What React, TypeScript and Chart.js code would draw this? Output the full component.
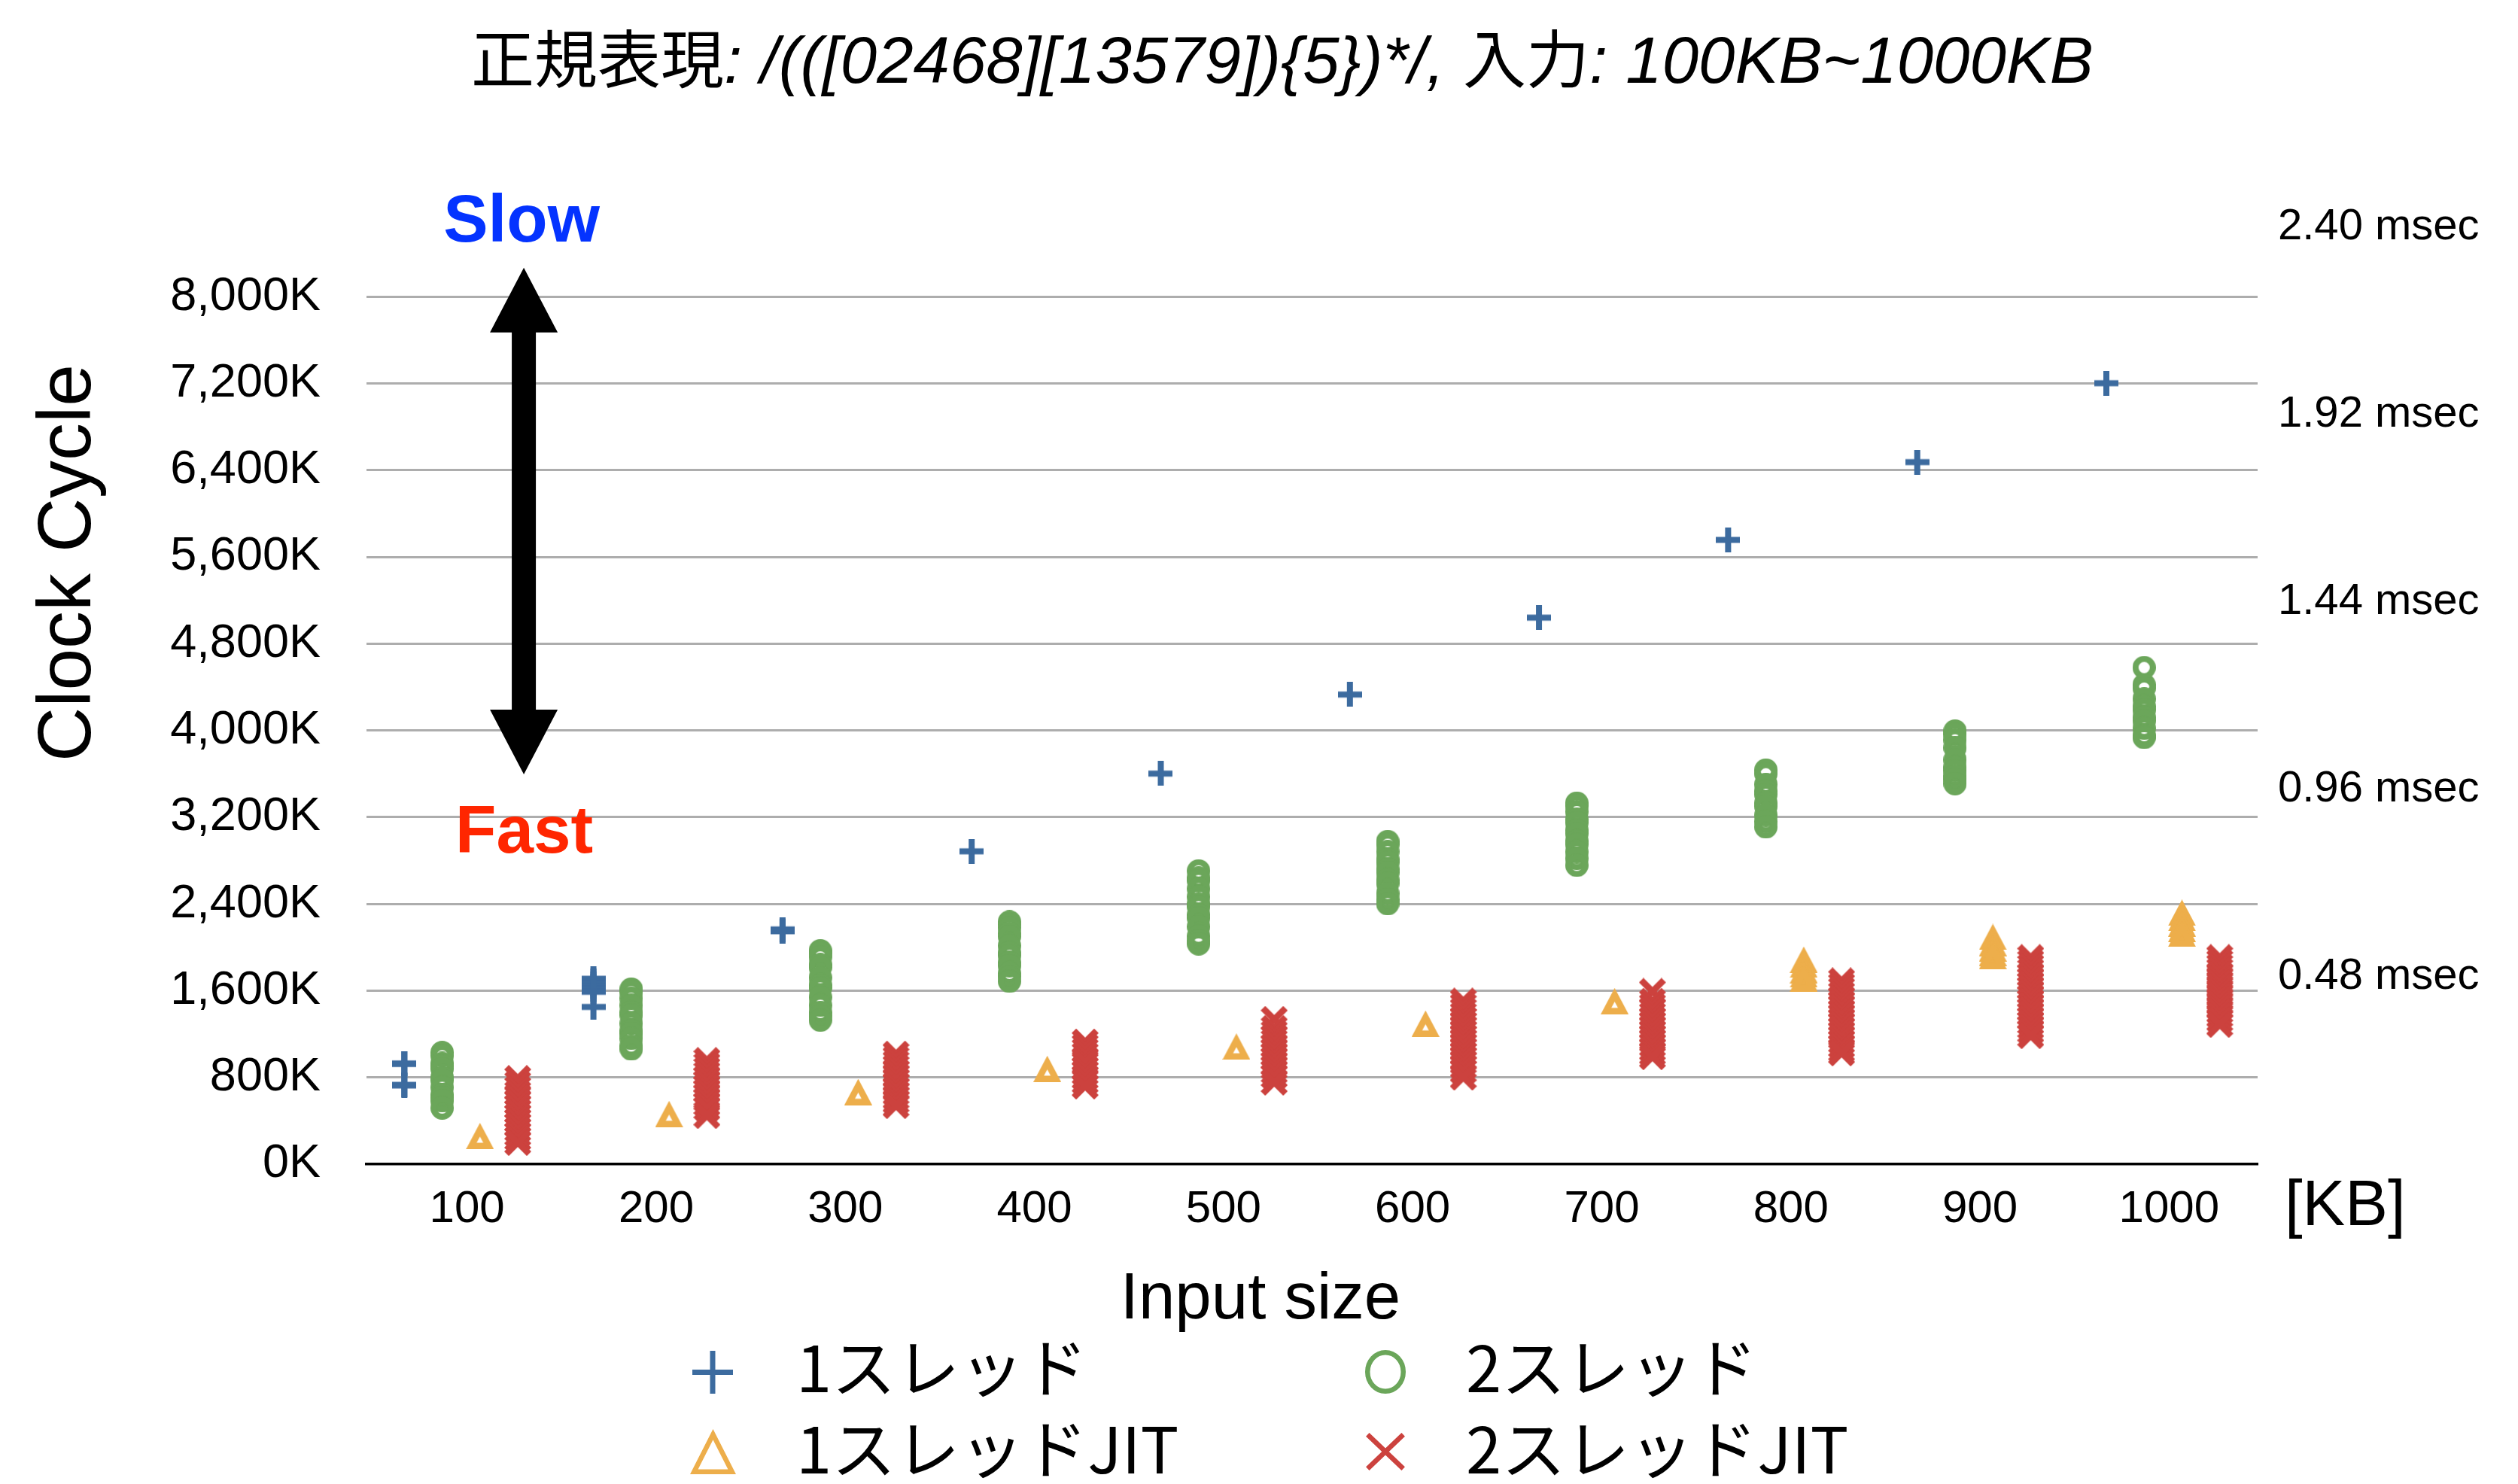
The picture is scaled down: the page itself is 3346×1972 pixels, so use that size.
import React, { useEffect, useRef } from 'react';
import { Chart, registerables } from 'chart.js';

Chart.register(...registerables);

// ---------- data ----------
const categories = ['100', '200', '300', '400', '500', '600', '700', '800', '900', '1000'];
const yTickValues = [0, 800, 1600, 2400, 3200, 4000, 4800, 5600, 6400, 7200, 8000];
const msecTicks = [0.48, 0.96, 1.44, 1.92, 2.4];
const kCyclesPerMsec = 3600;

const seriesNames = ['1スレッド', '2スレッド', '1スレッドJIT', '2スレッドJIT'];
const seriesColors = ['#3C6B9F', '#6BA65A', '#EDAE4B', '#CC423E'];
const seriesSlots = [0.2, 0.4, 0.6, 0.8];

// clock cycles (K) per input size, several runs each
const thread1: number[][] = [
  [727, 730, 925, 928],
  [1710, 1690, 1665, 1640, 1615, 1590, 1450],
  [2165, 2148],
  [2885],
  [3602],
  [4331],
  [5040],
  [5757],
  [6474],
  [7202],
];
const thread2: number[][] = [
  [1030, 1000, 930, 905, 880, 800, 775, 708, 640, 615, 583, 518],
  [1615, 1590, 1530, 1465, 1400, 1375, 1298, 1230, 1205, 1160, 1090, 1062],
  [1969, 1945, 1911, 1840, 1815, 1721, 1650, 1625, 1540, 1465, 1400, 1367, 1328],
  [2235, 2210, 2180, 2130, 2100, 2015, 1950, 1925, 1860, 1830, 1760, 1730, 1687],
  [2705, 2640, 2615, 2540, 2466, 2400, 2375, 2300, 2270, 2190, 2103, 2060, 2032],
  [2976, 2950, 2883, 2810, 2785, 2720, 2690, 2620, 2590, 2497, 2440, 2402],
  [3330, 3305, 3251, 3180, 3150, 3080, 3050, 2980, 2950, 2880, 2820, 2756],
  [3635, 3600, 3503, 3440, 3410, 3330, 3300, 3219, 3160, 3110],
  [3995, 3965, 3913, 3840, 3729, 3660, 3630, 3580, 3550, 3509],
  [4580, 4420, 4390, 4291, 4220, 4190, 4120, 4090, 4020, 3952, 3935],
];
const thread1Jit: number[][] = [
  [260],
  [463],
  [666],
  [879],
  [1085],
  [1296],
  [1504],
  [1886, 1840, 1790, 1750, 1713],
  [2096, 2040, 1990, 1950, 1918],
  [2319, 2270, 2220, 2170, 2126],
];
const thread2Jit: number[][] = [
  [790, 745, 700, 655, 612, 570, 528, 486, 444, 402, 360, 318, 276, 236, 200],
  [956, 915, 875, 835, 795, 755, 715, 675, 635, 595, 555, 515, 448],
  [1015, 975, 935, 895, 855, 815, 775, 735, 695, 655, 615, 578, 540],
  [1126, 1088, 1050, 1010, 968, 940, 880, 842, 800, 760, 720],
  [1335, 1252, 1212, 1172, 1132, 1092, 1052, 1012, 972, 932, 892, 852, 812, 756],
  [1504, 1462, 1420, 1380, 1340, 1300, 1260, 1220, 1180, 1140, 1100, 1060, 1020, 980, 940, 900, 858, 802],
  [1593, 1502, 1462, 1420, 1380, 1340, 1300, 1260, 1220, 1180, 1140, 1100, 1060, 1022, 991],
  [1690, 1650, 1612, 1570, 1530, 1490, 1452, 1410, 1370, 1330, 1292, 1250, 1210, 1170, 1130, 1090, 1052, 1026],
  [1905, 1865, 1825, 1785, 1745, 1705, 1665, 1625, 1585, 1545, 1505, 1465, 1425, 1385, 1345, 1305, 1265, 1225, 1185],
  [1905, 1866, 1827, 1788, 1750, 1712, 1674, 1636, 1598, 1560, 1522, 1484, 1446, 1408, 1370, 1330, 1288],
];
const seriesData = [thread1, thread2, thread1Jit, thread2Jit];

const titleSegments: { text: string; latin: boolean }[] = [
  { text: '正規表現', latin: false },
  { text: ': /(([02468][13579]){5})*/, ', latin: true },
  { text: '入力', latin: false },
  { text: ': 100KB~1000KB', latin: true },
];
const yAxisTitle = 'Clock Cycle';
const xAxisTitle = 'Input size';
const xUnit = '[KB]';
const slowLabel = 'Slow';
const fastLabel = 'Fast';

// annotation arrow in data units (x: category units, y: K cycles)
const arrowX = 0.832;
const arrowTip = 8267;
const arrowHeadBaseTop = 7670;
const arrowHeadBaseBottom = 4192;
const arrowTail = 3595;

const LATIN = '"Liberation Sans", Arial, Helvetica, sans-serif';
const CJK = '"Noto Sans CJK JP", "Noto Sans", sans-serif';

type Pt = [number, number];
const dist = (p: Pt, q: Pt) => Math.hypot(p[0] - q[0], p[1] - q[1]);

function insetTriangle(p: Pt[], t: number): Pt[] {
  const [A, B, C] = p;
  const a = dist(B, C), b = dist(C, A), c = dist(A, B);
  const per = a + b + c;
  const area = Math.abs((B[0] - A[0]) * (C[1] - A[1]) - (C[0] - A[0]) * (B[1] - A[1])) / 2;
  const r = area / (per / 2);
  const I: Pt = [(a * A[0] + b * B[0] + c * C[0]) / per, (a * A[1] + b * B[1] + c * C[1]) / per];
  const k = Math.max(r - t, 0) / r;
  return p.map((v) => [I[0] + (v[0] - I[0]) * k, I[1] + (v[1] - I[1]) * k] as Pt);
}

function makeMarker(kind: string, color: string, w: number, h: number, sw: number): HTMLCanvasElement {
  const c = document.createElement('canvas');
  c.width = w;
  c.height = h;
  const ctx = c.getContext('2d')!;
  ctx.fillStyle = color;
  ctx.strokeStyle = color;
  if (kind === 'plus') {
    ctx.fillRect(w / 2 - sw / 2, 0, sw, h);
    ctx.fillRect(0, h / 2 - sw / 2, w, sw);
  } else if (kind === 'circle') {
    ctx.lineWidth = sw;
    ctx.beginPath();
    ctx.ellipse(w / 2, h / 2, w / 2 - sw / 2, h / 2 - sw / 2, 0, 0, Math.PI * 2);
    ctx.stroke();
  } else if (kind === 'triangle') {
    const outer: Pt[] = [[w / 2, 0], [0, h], [w, h]];
    const inner = insetTriangle(outer, sw);
    ctx.beginPath();
    ctx.moveTo(outer[0][0], outer[0][1]);
    ctx.lineTo(outer[1][0], outer[1][1]);
    ctx.lineTo(outer[2][0], outer[2][1]);
    ctx.closePath();
    ctx.moveTo(inner[0][0], inner[0][1]);
    ctx.lineTo(inner[2][0], inner[2][1]);
    ctx.lineTo(inner[1][0], inner[1][1]);
    ctx.closePath();
    ctx.fill('evenodd');
  } else {
    const dx = w / 2 - 0.354 * sw;
    const dy = h / 2 - 0.354 * sw;
    ctx.lineWidth = sw;
    ctx.lineCap = 'butt';
    ctx.beginPath();
    ctx.moveTo(w / 2 - dx, h / 2 - dy);
    ctx.lineTo(w / 2 + dx, h / 2 + dy);
    ctx.moveTo(w / 2 + dx, h / 2 - dy);
    ctx.lineTo(w / 2 - dx, h / 2 + dy);
    ctx.stroke();
  }
  return c;
}

export default function App() {
  const ref = useRef<HTMLCanvasElement>(null);

  useEffect(() => {
    const canvas = ref.current;
    if (!canvas) return;
    Chart.defaults.font.family = LATIN;
    Chart.defaults.color = '#000';

    const kinds = ['plus', 'circle', 'triangle', 'cross'];
    const chartMarkerSpec = [
      [32, 33, 8],
      [31, 31, 8],
      [37, 35, 8.5],
      [36, 36, 8.5],
    ];
    const legendMarkerSpec = [
      [54, 57, 7],
      [54, 58, 6.5],
      [61, 60, 6.5],
      [52, 50, 6.5],
    ];
    const chartMarkers = kinds.map((k, i) =>
      makeMarker(k, seriesColors[i], chartMarkerSpec[i][0], chartMarkerSpec[i][1], chartMarkerSpec[i][2])
    );
    const legendMarkers = kinds.map((k, i) =>
      makeMarker(k, seriesColors[i], legendMarkerSpec[i][0], legendMarkerSpec[i][1], legendMarkerSpec[i][2])
    );

    const datasets = seriesData.map((groups, s) => ({
      label: seriesNames[s],
      data: groups.flatMap((vals, ci) => vals.map((v) => ({ x: ci + seriesSlots[s], y: v }))),
      pointStyle: chartMarkers[s] as any,
      pointRadius: 15,
      showLine: false,
    }));

    const yMax = msecTicks[msecTicks.length - 1] * kCyclesPerMsec;

    const extras = {
      id: 'extras',
      afterDraw(chart: any) {
        const ctx: CanvasRenderingContext2D = chart.ctx;
        const xs = chart.scales.x;
        const ys = chart.scales.y;
        ctx.save();
        ctx.fillStyle = '#000';

        // main title
        const fontFor = (latin: boolean) => (latin ? `italic 87px ${LATIN}` : `84px ${CJK}`);
        let total = 0;
        const widths = titleSegments.map((seg) => {
          ctx.font = fontFor(seg.latin);
          const w = ctx.measureText(seg.text).width;
          total += w;
          return w;
        });
        let tx = 1704 - total / 2;
        ctx.textBaseline = 'alphabetic';
        ctx.textAlign = 'left';
        titleSegments.forEach((seg, i) => {
          ctx.font = fontFor(seg.latin);
          ctx.fillText(seg.text, tx, 110);
          tx += widths[i];
        });

        // y axis title
        ctx.save();
        ctx.translate(120, 748);
        ctx.rotate(-Math.PI / 2);
        ctx.font = `100px ${LATIN}`;
        ctx.textAlign = 'center';
        ctx.textBaseline = 'alphabetic';
        ctx.fillText(yAxisTitle, 0, 0);
        ctx.restore();

        // x axis title and unit
        ctx.font = `87px ${LATIN}`;
        ctx.textAlign = 'center';
        ctx.fillText(xAxisTitle, 1675, 1752);
        ctx.font = `85px ${LATIN}`;
        ctx.textAlign = 'left';
        ctx.fillText(xUnit, 3036, 1628);

        // arrow
        const px = xs.getPixelForValue(arrowX);
        const tTop = ys.getPixelForValue(arrowTip);
        const bTop = ys.getPixelForValue(arrowHeadBaseTop);
        const bBot = ys.getPixelForValue(arrowHeadBaseBottom);
        const tBot = ys.getPixelForValue(arrowTail);
        const hw = 45;
        const sw = 16;
        ctx.beginPath();
        ctx.moveTo(px, tTop);
        ctx.lineTo(px + hw, bTop);
        ctx.lineTo(px + sw, bTop);
        ctx.lineTo(px + sw, bBot);
        ctx.lineTo(px + hw, bBot);
        ctx.lineTo(px, tBot);
        ctx.lineTo(px - hw, bBot);
        ctx.lineTo(px - sw, bBot);
        ctx.lineTo(px - sw, bTop);
        ctx.lineTo(px - hw, bTop);
        ctx.closePath();
        ctx.fill();

        // Slow / Fast
        ctx.font = `bold 89px ${LATIN}`;
        ctx.textAlign = 'center';
        ctx.fillStyle = '#0433FF';
        ctx.fillText(slowLabel, xs.getPixelForValue(0.82), ys.getPixelForValue(8510));
        ctx.fillStyle = '#FF2600';
        ctx.fillText(fastLabel, xs.getPixelForValue(0.834), ys.getPixelForValue(2874));

        // legend (2 columns x 2 rows)
        const markerX = [947, 1841];
        const markerY = [1823, 1929];
        const textX = [1058, 1948];
        const textY = [1818, 1926];
        ctx.fillStyle = '#000';
        ctx.font = `85px ${CJK}`;
        ctx.textAlign = 'left';
        ctx.textBaseline = 'middle';
        seriesNames.forEach((name, i) => {
          const col = i % 2;
          const row = Math.floor(i / 2);
          const m = legendMarkers[i];
          ctx.drawImage(m, Math.round(markerX[col] - m.width / 2), Math.round(markerY[row] - m.height / 2));
          ctx.fillText(name, textX[col], textY[row]);
        });

        ctx.restore();
      },
    };

    const chart = new Chart(canvas, {
      type: 'scatter',
      data: { datasets: datasets as any },
      options: {
        responsive: false,
        animation: false,
        devicePixelRatio: 1,
        events: [],
        layout: { padding: { top: 302, left: 0, right: 0, bottom: 0 } },
        plugins: {
          legend: { display: false },
          title: { display: false },
          tooltip: { enabled: false },
        },
        scales: {
          x: {
            type: 'linear',
            min: 0,
            max: categories.length,
            afterBuildTicks: (s: any) => {
              s.ticks = categories.map((_, i) => ({ value: i + 0.5 }));
            },
            afterFit: (s: any) => {
              s.height = 425;
            },
            grid: { display: false, drawTicks: false },
            border: { display: true, color: '#000', width: 3.5, z: 1 },
            ticks: {
              callback: (_v: any, i: number) => categories[i],
              font: { size: 60, family: LATIN },
              color: '#000',
              padding: 24,
              maxRotation: 0,
              autoSkip: false,
              labelOffset: 8,
            },
          },
          y: {
            type: 'linear',
            position: 'left',
            min: 0,
            max: yMax,
            afterBuildTicks: (s: any) => {
              s.ticks = yTickValues.map((v) => ({ value: v }));
            },
            afterFit: (s: any) => {
              s.width = 487;
            },
            grid: {
              color: (c: any) => (c.tick && c.tick.value === 0 ? 'rgba(0,0,0,0)' : '#ADADAD'),
              lineWidth: 3,
              drawTicks: false,
            },
            border: { display: false },
            ticks: {
              callback: (v: any) => `${Number(v).toLocaleString('en-US')}K`,
              font: { size: 63, family: LATIN },
              color: '#000',
              padding: 61,
              autoSkip: false,
            },
          },
          y2: {
            type: 'linear',
            position: 'right',
            min: 0,
            max: yMax,
            afterBuildTicks: (s: any) => {
              s.ticks = msecTicks.map((m) => ({ value: m * kCyclesPerMsec }));
            },
            afterFit: (s: any) => {
              s.width = 346;
            },
            grid: { display: false, drawTicks: false },
            border: { display: false },
            ticks: {
              callback: (_v: any, i: number) => `${msecTicks[i].toFixed(2)} msec`,
              font: { size: 58, family: LATIN },
              color: '#000',
              padding: 27,
              autoSkip: false,
            },
          },
        },
      } as any,
      plugins: [extras],
    });

    return () => chart.destroy();
  }, []);

  return (
    <div style={{ position: 'absolute', left: 0, top: 0, width: 3346, height: 1972, background: '#fff' }}>
      <canvas ref={ref} width={3346} height={1972} style={{ width: 3346, height: 1972, display: 'block' }} />
    </div>
  );
}
